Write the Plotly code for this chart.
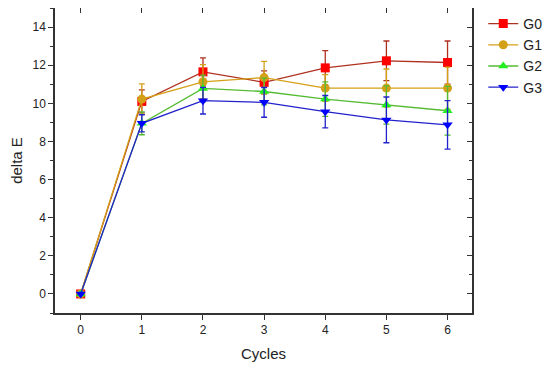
import plotly.graph_objects as go

cycles = [0, 1, 2, 3, 4, 5, 6]
g0 = [0.0, 10.1, 11.65, 11.1, 11.86, 12.23, 12.14]
g1 = [0.0, 10.22, 11.13, 11.35, 10.8, 10.8, 10.8]
g2 = [0.0, 8.95, 10.78, 10.62, 10.22, 9.91, 9.61]
g3 = [0.0, 8.95, 10.14, 10.05, 9.56, 9.13, 8.87]
g0_err = [0.0, 0.6, 0.73, 0.6, 0.9, 1.04, 1.13]
g1_err = [0.0, 0.8, 0.9, 0.85, 0.7, 1.0, 1.1]
g2_err = [0.0, 0.6, 0.7, 0.7, 0.9, 1.0, 1.28]
g3_err = [0.0, 0.45, 0.7, 0.78, 0.85, 1.2, 1.27]
names = ["G0", "G1", "G2", "G3"]

series = [
    (g0, g0_err, "square", "#FF0000", "#B03020"),
    (g1, g1_err, "circle", "#D4A017", "#D4A017"),
    (g2, g2_err, "triangle-up", "#22EE22", "#55BB33"),
    (g3, g3_err, "triangle-down", "#0000FF", "#2222CC"),
]

fig = go.Figure()
for name, (vals, err, sym, mcol, lcol) in zip(names, series):
    fig.add_trace(go.Scatter(
        x=cycles, y=vals, name=name, mode="lines+markers",
        line=dict(color=lcol, width=1.3),
        marker=dict(symbol=sym, size=9, color=mcol, line=dict(width=0)),
        error_y=dict(type="data", array=err, visible=True, color=lcol, thickness=1.3, width=3),
    ))

fig.add_trace(go.Scatter(x=[], y=[], xaxis="x2", yaxis="y2", showlegend=False, hoverinfo="skip"))

axis_common = dict(showgrid=False, zeroline=False, showline=True, linecolor="#333333", linewidth=1.5,
                   tickcolor="#333333", tickwidth=1.2)

fig.update_layout(
    width=542, height=363,
    margin=dict(l=47, r=78, t=0, b=58, pad=0),
    paper_bgcolor="white", plot_bgcolor="white",
    font=dict(family="Arial, Liberation Sans, sans-serif", color="#222222"),
    xaxis=dict(range=[-0.42, 6.4], tickvals=cycles, ticks="outside", ticklen=5,
               tickfont=dict(size=12), title=dict(text="Cycles", font=dict(size=15), standoff=12),
               **axis_common),
    yaxis=dict(range=[-1, 15], tickvals=[0, 2, 4, 6, 8, 10, 12, 14], ticks="outside", ticklen=5,
               tickfont=dict(size=12), title=dict(text="delta E", font=dict(size=15), standoff=6),
               minor=dict(dtick=1, tick0=1, ticks="outside", ticklen=3, tickcolor="#333333"),
               **axis_common),
    xaxis2=dict(overlaying="x", side="top", range=[-0.42, 6.4], tickvals=cycles, ticks="inside",
                ticklen=5, showticklabels=False, **axis_common),
    yaxis2=dict(overlaying="y", side="right", range=[-1, 15], tickvals=[0, 2, 4, 6, 8, 10, 12, 14],
                ticks="inside", ticklen=5, showticklabels=False,
                minor=dict(dtick=1, tick0=1, ticks="inside", ticklen=3, tickcolor="#333333"),
                **axis_common),
    legend=dict(x=1.027, y=1.0, xanchor="left", yanchor="top", font=dict(size=14),
                bgcolor="rgba(0,0,0,0)", itemwidth=30, tracegroupgap=0),
)

fig.write_html("out.html")
